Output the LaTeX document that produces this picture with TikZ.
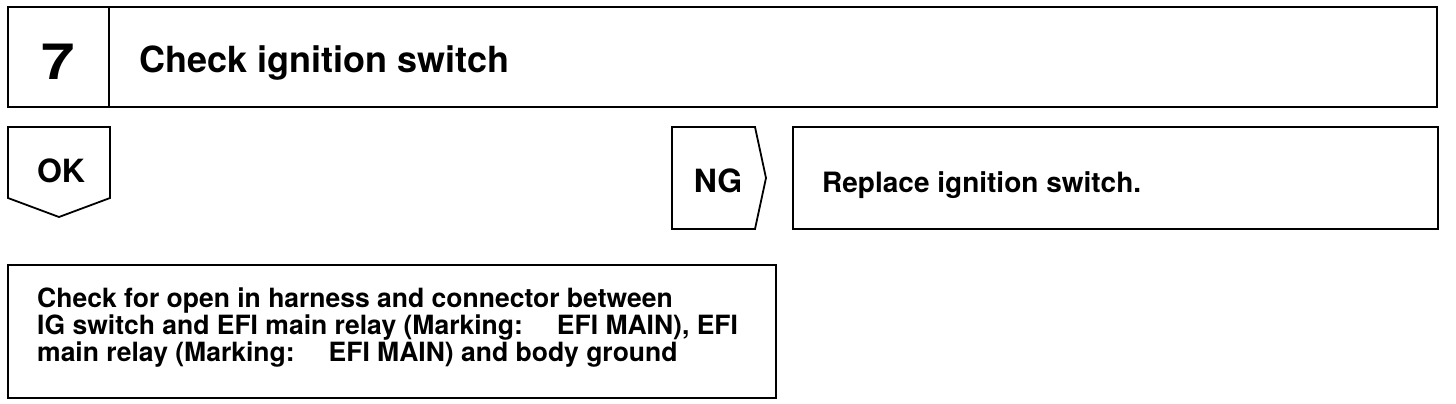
\documentclass[tikz,border=0pt]{standalone}
\usepackage{fontspec}
\setmainfont{TeX Gyre Heros}
\usetikzlibrary{positioning}
\tikzset{
  frame/.style={draw=black,line width=2.2pt,line join=miter},
  thinframe/.style={draw=black,line width=1.8pt,line join=miter},
  numlab/.style={font=\bfseries\fontsize{50}{52}\selectfont,inner sep=0pt,xscale=1.2},
  headlab/.style={font=\bfseries\fontsize{36}{38}\selectfont,inner sep=0pt},
  tag/.style={font=\bfseries\fontsize{32}{34}\selectfont,inner sep=0pt},
  remedy/.style={font=\bfseries\fontsize{28}{30}\selectfont,inner sep=0pt},
  checktext/.style={font=\bfseries\fontsize{26.5}{23}\selectfont,inner sep=0pt,align=left},
}
\newcommand{\markgap}{\hspace{34pt}}

\begin{document}
\begin{tikzpicture}[x=1pt,y=-1pt]
\useasboundingbox[fill=white] (0,0) rectangle (1456,404);
% step header
\coordinate (hA) at (8,7);
\coordinate (hB) at (1437,107);
\coordinate (hD) at (109,7);
\coordinate (hE) at (109,107);
\draw[frame] (hA) rectangle (hB);
\draw[frame] (hD) -- (hE);
\node[numlab,anchor=base] (num) at (58,80) {7};
\node[headlab,anchor=base west] (head) at (139,73) {Check ignition switch};
% OK branch
\draw[thinframe] (8,198) -- (8,127) -- (110,127) -- (110,198) -- (59,217) -- cycle;
\node[tag,anchor=base] (ok) at (61,182) {OK};
% NG branch
\draw[thinframe] (672,127) -- (755,127) -- (766,178) -- (755,229) -- (672,229) -- cycle;
\node[tag,anchor=base] (ng) at (718,192) {NG};
\draw[thinframe] (793,127) rectangle (1438,229);
\node[remedy,anchor=base west] (fix) at (822,192) {Replace ignition switch.};
% next check
\draw[thinframe] (8,265) rectangle (776,398);
\node[checktext,anchor=north west] (next) at (37,288)
  {Check for open in harness and connector between\\
   IG switch and EFI main relay (Marking:\markgap EFI MAIN), EFI\\
   main relay (Marking:\markgap EFI MAIN) and body ground};
\end{tikzpicture}
\end{document}
